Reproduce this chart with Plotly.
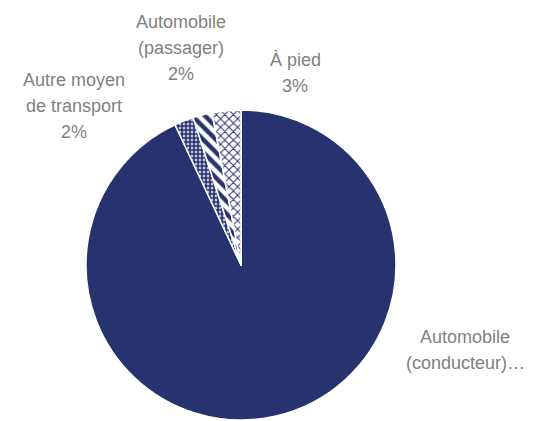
import plotly.graph_objects as go

# Mode share data (clockwise from 12 o'clock)
categories = ["Automobile (conducteur)", "Autre moyen de transport",
              "Automobile (passager)", "À pied"]
shares = [93, 2, 2, 3]
# Wrapped label text as printed next to each slice
name_lines = [["Automobile", "(conducteur)…"],
              ["Autre moyen", "de transport"],
              ["Automobile", "(passager)"],
              ["À pied"]]
show_pct = [False, True, True, True]

NAVY = "#27336f"
GREY = "#7f7f7f"
W, H = 544, 421

# pie geometry in pixels
cx, cy, r = 241, 265, 155

fig = go.Figure(go.Pie(
    labels=categories,
    values=shares,
    sort=False,
    direction="clockwise",
    rotation=0,
    textinfo="none",
    hoverinfo="label+percent",
    showlegend=False,
    domain=dict(x=[(cx - r) / W, (cx + r) / W],
                y=[(H - cy - r) / H, (H - cy + r) / H]),
    marker=dict(
        colors=[NAVY, "white", "white", "white"],
        line=dict(color="white", width=1.5),
        pattern=dict(
            shape=["", ".", "\\", "x"],
            fgcolor=NAVY,
            bgcolor="white",
            fgopacity=1,
            size=[8, 4, 9, 6],
            solidity=[0.3, 0.75, 0.5, 0.3],
            fillmode="replace",
        ),
    ),
))

# label block anchors: horizontal centre and first line centre (px)
label_pos = [(465, 337), (74, 80), (181, 22), (295, 60)]
line_gap = 26

annotations = []
for lines, pct, v, (lx, ly) in zip(name_lines, show_pct, shares, label_pos):
    rows = list(lines) + ([f"{v}%"] if pct else [])
    for i, row in enumerate(rows):
        annotations.append(dict(
            x=lx / W, y=1 - (ly + i * line_gap) / H,
            xref="paper", yref="paper",
            text=row, showarrow=False,
            xanchor="center", yanchor="middle",
            font=dict(family="Liberation Sans, Arial, sans-serif",
                      size=18, color=GREY),
        ))

fig.update_layout(
    width=W, height=H,
    margin=dict(l=0, r=0, t=0, b=0),
    paper_bgcolor="white",
    plot_bgcolor="white",
    annotations=annotations,
)

fig.write_html("out.html")
